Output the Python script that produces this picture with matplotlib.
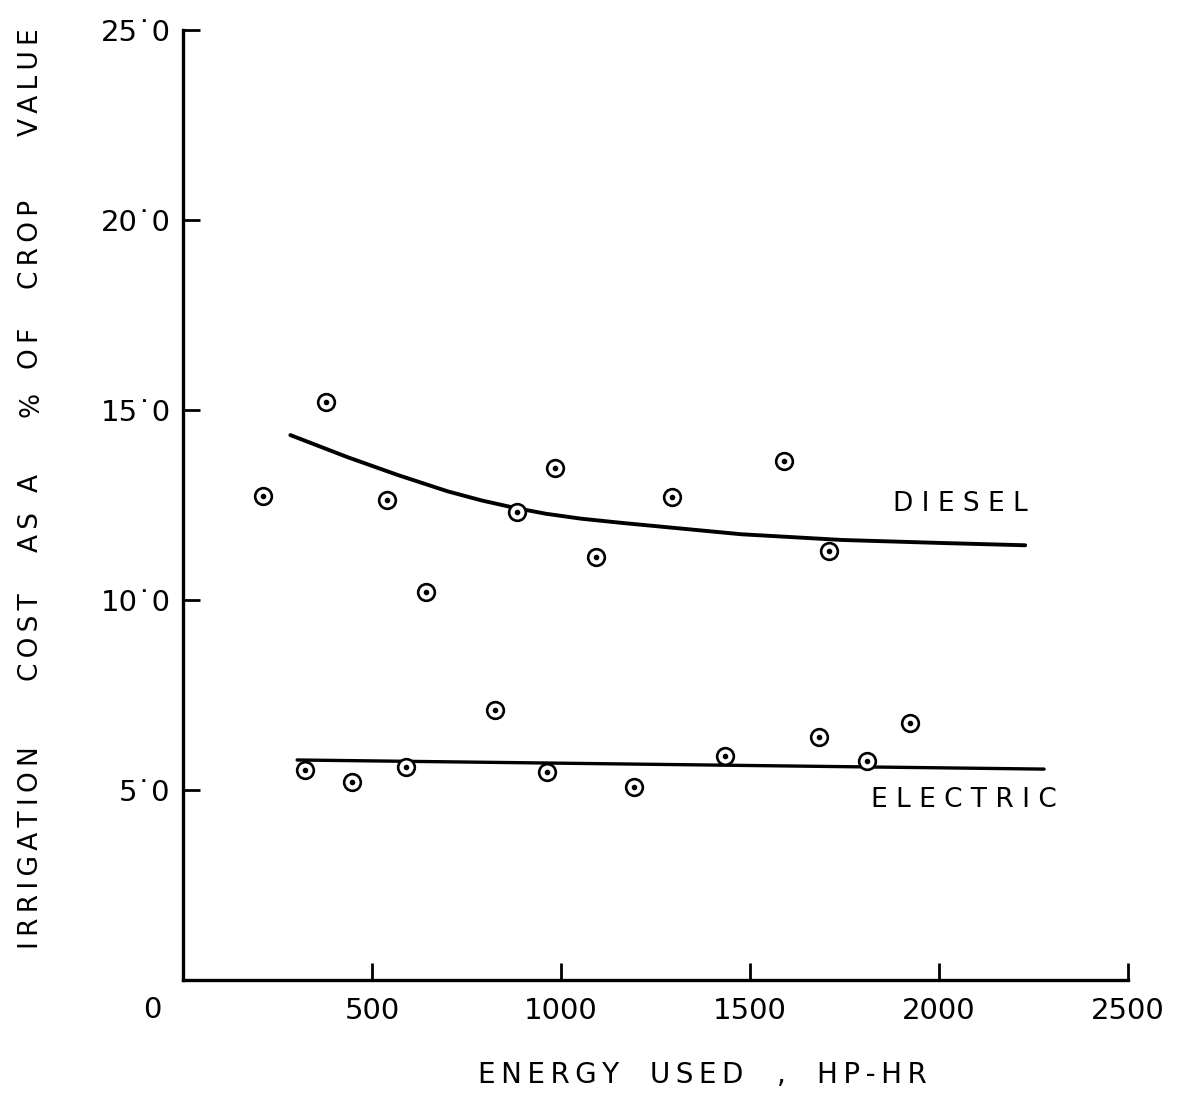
import matplotlib
matplotlib.use("Agg")
import matplotlib.pyplot as plt
from matplotlib.transforms import blended_transform_factory

# ---- data ----
diesel_x = [212, 377, 541, 642, 883, 984, 1093, 1294, 1589, 1708]
diesel_y = [12.74, 15.21, 12.63, 10.21, 12.32, 13.47, 11.13, 12.71, 13.66, 11.29]

electric_x = [324, 446, 589, 825, 963, 1194, 1435, 1682, 1809, 1923]
electric_y = [5.53, 5.21, 5.61, 7.11, 5.47, 5.08, 5.89, 6.39, 5.76, 6.76]

diesel_curve_x = [284, 435, 568, 700, 790, 875, 960, 1053, 1160, 1265, 1477, 1743, 2008, 2228]
diesel_curve_y = [14.34, 13.76, 13.29, 12.86, 12.62, 12.43, 12.27, 12.14, 12.03, 11.93, 11.73, 11.58, 11.50, 11.44]

electric_line_x = [302, 2278]
electric_line_y = [5.79, 5.55]

x_ticks = [500, 1000, 1500, 2000, 2500]
x_ticklabels = ["500", "1000", "1500", "2000", "2500"]
y_ticks = [5, 10, 15, 20, 25]
y_ticklabels = ["5\u02d90", "10\u02d90", "15\u02d90", "20\u02d90", "25\u02d90"]

TS = "\u2009"  # thin space for letter spacing


def spaced(word):
    return TS.join(word)


fig = plt.figure(figsize=(11.92, 11.09), dpi=100)
ax = fig.add_axes([183/1192, 1-980/1109, (1128-183)/1192, (980-30)/1109])

ax.set_xlim(0, 2500)
ax.set_ylim(0, 25)

for s in ["top", "right"]:
    ax.spines[s].set_visible(False)
for s in ["left", "bottom"]:
    ax.spines[s].set_linewidth(2.4)
    ax.spines[s].set_color("black")

ax.set_xticks(x_ticks)
ax.set_xticklabels(x_ticklabels, fontsize=21)
ax.set_yticks(y_ticks)
ax.set_yticklabels(y_ticklabels, fontsize=21)
ax.tick_params(axis="both", direction="in", length=12, width=2.0, color="black")
ax.tick_params(axis="x", pad=12)
ax.tick_params(axis="y", pad=9)

trans = blended_transform_factory(ax.transData, ax.transAxes)
ax.text(-82, -0.032, "0", fontsize=21, ha="center", va="center", transform=trans)

# lines
ax.plot(diesel_curve_x, diesel_curve_y, color="black", lw=2.8, solid_capstyle="round",
        solid_joinstyle="round")
ax.plot(electric_line_x, electric_line_y, color="black", lw=2.4, solid_capstyle="round")

# markers: circle with dot
for xs, ys in [(diesel_x, diesel_y), (electric_x, electric_y)]:
    ax.plot(xs, ys, linestyle="none", marker="o", ms=12, mfc="white", mec="black", mew=1.9, zorder=3)
    ax.plot(xs, ys, linestyle="none", marker="o", ms=3, mfc="black", mec="black", zorder=4)

ax.text(2056, 12.53, "D I E S E L", fontsize=19, ha="center", va="center")
ax.text(2066, 4.74, "E L E C T R I C", fontsize=19, ha="center", va="center")

# x label
xwords = [("ENERGY", 549), ("USED", 697), (",", 781), ("HP-HR", 872)]
for w, xp in xwords:
    fig.text(xp/1192, 1-1075/1109, spaced(w), fontsize=20, ha="center", va="center")

# y label words placed along the axis
ywords = [("IRRIGATION", 848), ("COST", 637), ("AS", 532), ("A", 483),
          ("%", 404), ("OF", 348), ("CROP", 244), ("VALUE", 82)]
for w, yp in ywords:
    fig.text(31/1192, 1-yp/1109, spaced(w), fontsize=19, rotation=90, ha="center", va="center")

fig.savefig("out.png", dpi=100, facecolor="white")
